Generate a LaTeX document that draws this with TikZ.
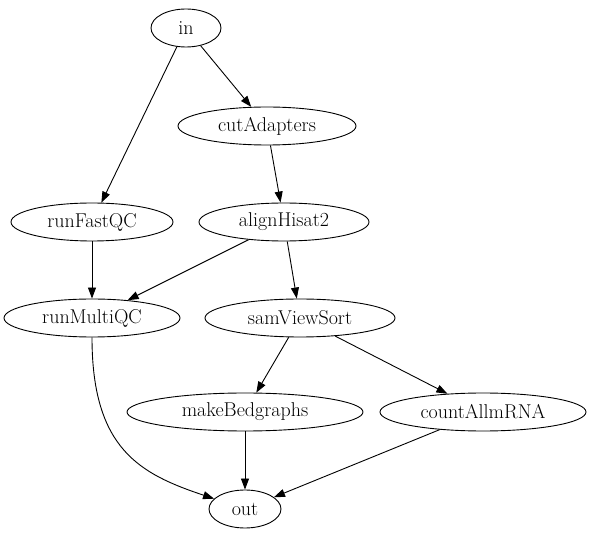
\documentclass[tikz,border=0pt]{standalone}
\usetikzlibrary{shapes.geometric,arrows.meta}
\tikzset{
  job/.style={draw,ellipse,line width=0.9pt,inner sep=0pt,minimum height=38pt,font=\fontsize{20}{24}\selectfont},
  dep/.style={-{Triangle[length=11pt,width=8pt]},line width=0.9pt}
}
\begin{document}
\begin{tikzpicture}[x=1pt,y=1pt]
\useasboundingbox (0,0) rectangle (598,539);
\node[job,minimum width=70pt] (in) at (186,511) {in};
\node[job,minimum width=178pt] (cut) at (267,413) {cutAdapters};
\node[job,minimum width=162pt] (fqc) at (92,317) {runFastQC};
\node[job,minimum width=170pt] (hisat) at (284,317) {alignHisat2};
\node[job,minimum width=176pt] (mqc) at (92,221) {runMultiQC};
\node[job,minimum width=190pt] (svs) at (300,221) {samViewSort};
\node[job,minimum width=236pt] (bed) at (245,127) {makeBedgraphs};
\node[job,minimum width=206pt] (cnt) at (483,127) {countAllmRNA};
\node[job,minimum width=72pt] (out) at (245,30) {out};
\draw[dep] (in) -- (cut);
\draw[dep] (in) -- (fqc);
\draw[dep] (cut) -- (hisat);
\draw[dep] (fqc) -- (mqc);
\draw[dep] (hisat) -- (mqc);
\draw[dep] (hisat) -- (svs);
\draw[dep] (svs) -- (bed);
\draw[dep] (svs) -- (cnt);
\draw[dep] (mqc.south) .. controls (92,90) and (140,65) .. (out);
\draw[dep] (bed) -- (out);
\draw[dep] (cnt) -- (out);
\end{tikzpicture}
\end{document}
